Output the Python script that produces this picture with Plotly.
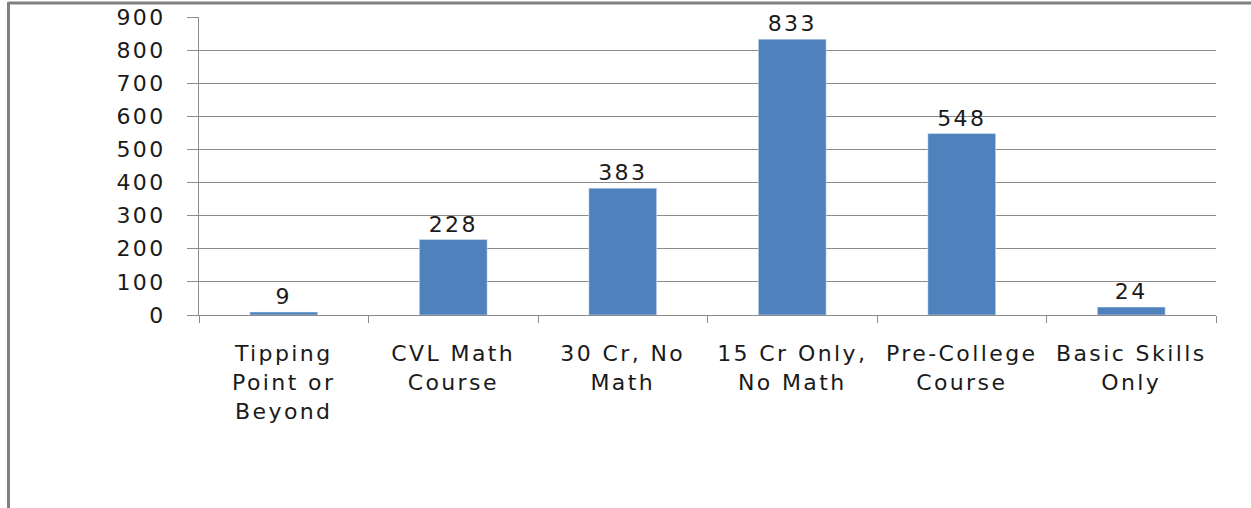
import plotly.graph_objects as go

categories = ["Tipping<br>Point or<br>Beyond", "CVL Math<br>Course", "30 Cr, No<br>Math",
              "15 Cr Only,<br>No Math", "Pre-College<br>Course", "Basic Skills<br>Only"]
values = [9, 228, 383, 833, 548, 24]
y_ticks = [0, 100, 200, 300, 400, 500, 600, 700, 800, 900]

FONT = "DejaVu Sans"
GRID = "#8c8c8c"
FS = 22

fig = go.Figure(go.Bar(
    x=categories, y=values, marker_color="#4F81BD", width=0.4,
    text=[str(v) for v in values], textposition="outside", cliponaxis=False,
    textfont=dict(family=FONT, size=FS, color="#1a1a1a"),
))

L, R, T, B = 199, 35, 17, 193
W, H = 1251, 508
pw, ph = W - L - R, H - T - B

def px(x):
    return (x - L) / pw

def py(y):
    return (H - B - y) / ph

fig.update_layout(
    width=W, height=H, margin=dict(l=L, r=R, t=T, b=B, autoexpand=False),
    paper_bgcolor="white", plot_bgcolor="white", showlegend=False,
    font=dict(family=FONT, size=FS, color="#1a1a1a"),
    bargap=0.6,
    xaxis=dict(type="category", tickson="boundaries", ticks="outside", ticklen=7,
               tickcolor=GRID, showline=True, linecolor=GRID, linewidth=1,
               showgrid=False, ticklabelstandoff=19, automargin=False,
               tickfont=dict(family=FONT, size=FS, color="#1a1a1a")),
    yaxis=dict(range=[0, 900], tickvals=y_ticks, showgrid=True, gridcolor=GRID,
               gridwidth=1, ticks="outside", ticklen=11, tickcolor=GRID,
               showline=True, linecolor=GRID, linewidth=1, zeroline=False,
               ticklabelstandoff=17, automargin=False,
               tickfont=dict(family=FONT, size=FS, color="#1a1a1a")),
    shapes=[
        dict(type="line", xref="paper", yref="paper", x0=px(8.5), x1=px(W), y0=py(3), y1=py(3),
             line=dict(color="#808080", width=3)),
        dict(type="line", xref="paper", yref="paper", x0=px(8.5), x1=px(8.5), y0=py(2), y1=py(H),
             line=dict(color="#808080", width=3)),
    ],
)

fig.write_html(
    "out.html",
    config={"displayModeBar": False},
    post_script="document.body.style.margin='0';document.body.style.padding='0';"
                "var d=document.getElementById('{plot_id}');d.style.position='absolute';"
                "d.style.top='0px';d.style.left='0px';"
                "var s=document.createElement('style');"
                "s.textContent='svg text{letter-spacing:2.4px}';"
                "document.head.appendChild(s);",
)
